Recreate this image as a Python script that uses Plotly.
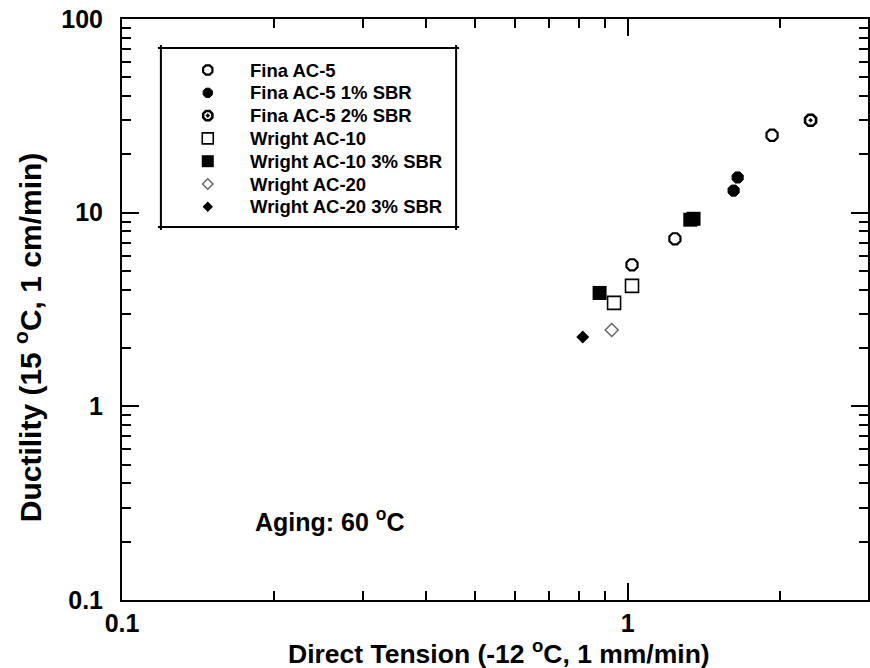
import plotly.graph_objects as go

# Direct tension strain (-12 C) vs ductility (15 C), 60 C aged binders
fina_ac5_x = [1.93, 1.24, 1.02]
fina_ac5_y = [25.1, 7.33, 5.38]

fina_1sbr_x = [1.65, 1.62]
fina_1sbr_y = [15.2, 13.0]

fina_2sbr_x = [2.30]
fina_2sbr_y = [30.0]

wright_ac10_x = [1.02, 0.94]
wright_ac10_y = [4.19, 3.42]

wright_ac10_3sbr_x = [1.35, 1.33, 0.88]
wright_ac10_3sbr_y = [9.3, 9.2, 3.85]

wright_ac20_x = [0.93]
wright_ac20_y = [2.48]

wright_ac20_3sbr_x = [0.815]
wright_ac20_3sbr_y = [2.28]

x_ticks = [0.1, 1]
x_tick_text = ["0.1", "1"]
y_ticks = [0.1, 1, 10, 100]
y_tick_text = ["0.1", "1", "10", "100"]

FONT = "Liberation Sans, Arial, Helvetica, sans-serif"

# plot area in pixels (figure 870 x 668)
L, R, T, B = 122, 870, 19, 600
PW, PH = R - L, B - T


def px(xp):
    return (xp - L) / PW


def py(yp):
    return (B - yp) / PH


series = [
    ("Fina AC-5", fina_ac5_x, fina_ac5_y,
     dict(symbol="octagon-open", size=12, color="black", line=dict(width=2.2, color="black"))),
    ("Fina AC-5 1% SBR", fina_1sbr_x, fina_1sbr_y,
     dict(symbol="octagon", size=12, color="black", line=dict(width=1, color="black"))),
    ("Fina AC-5 2% SBR", fina_2sbr_x, fina_2sbr_y,
     dict(symbol="octagon-open-dot", size=12, color="black", line=dict(width=2.6, color="black"))),
    ("Wright AC-10", wright_ac10_x, wright_ac10_y,
     dict(symbol="square-open", size=13, color="black", line=dict(width=1.6, color="black"))),
    ("Wright AC-10 3% SBR", wright_ac10_3sbr_x, wright_ac10_3sbr_y,
     dict(symbol="square", size=14, color="black", line=dict(width=0, color="black"))),
    ("Wright AC-20", wright_ac20_x, wright_ac20_y,
     dict(symbol="diamond-open", size=10, color="#666666", line=dict(width=1.5, color="#666666"))),
    ("Wright AC-20 3% SBR", wright_ac20_3sbr_x, wright_ac20_3sbr_y,
     dict(symbol="diamond", size=10, color="black", line=dict(width=0, color="black"))),
]

fig = go.Figure()
for name, xs, ys, marker in series:
    fig.add_trace(go.Scatter(x=xs, y=ys, mode="markers", name=name, marker=marker,
                             showlegend=False))

# legend keys on an overlay axis spanning the plot area in fractions
key_x = px(208)
text_x = px(248)
row_y = [py(70 + 22.8 * i) for i in range(len(series))]
for (name, _, _, marker), ry in zip(series, row_y):
    key_marker = dict(marker)
    key_marker["size"] = max(marker["size"] - 2, 8)
    fig.add_trace(go.Scatter(x=[key_x], y=[ry], mode="markers", marker=key_marker,
                             xaxis="x2", yaxis="y2", showlegend=False, hoverinfo="skip"))
    fig.add_annotation(text=name, xref="paper", yref="paper", x=text_x, y=ry,
                       xanchor="left", yanchor="middle", showarrow=False,
                       font=dict(family=FONT, size=18.5, color="black", weight="bold"))

minor_x = [v * m for v in (0.1, 1) for m in range(2, 10)]
minor_y = [v * m for v in (0.1, 1, 10) for m in range(2, 10)]

axis_common = dict(
    type="log",
    showgrid=False,
    zeroline=False,
    showline=True,
    linecolor="black",
    linewidth=2,
    mirror="ticks",
    ticks="inside",
    ticklen=17,
    tickwidth=2,
    tickcolor="black",
    tickfont=dict(family=FONT, size=25, color="black", weight="bold"),
)

fig.update_xaxes(
    **axis_common,
    range=[-1, 0.4753],
    tickmode="array",
    tickvals=x_ticks,
    ticktext=x_tick_text,
    minor=dict(tickmode="array", tickvals=minor_x, ticks="inside", ticklen=9,
               tickwidth=2, tickcolor="black", showgrid=False),
)
fig.update_yaxes(
    **axis_common,
    range=[-1, 2],
    tickmode="array",
    tickvals=y_ticks,
    ticktext=y_tick_text,
    ticklabelstandoff=12,
    minor=dict(tickmode="array", tickvals=minor_y, ticks="inside", ticklen=9,
               tickwidth=2, tickcolor="black", showgrid=False),
)

# legend frame drawn as four rules that run slightly past each corner
bx0, bx1, by0, by1 = 161, 457, 48, 227
ov = 3
frame = [
    (bx0 - ov, by0, bx1 + ov, by0),
    (bx0 - ov, by1, bx1 + ov, by1),
    (bx0, by0 - ov, bx0, by1 + ov),
    (bx1, by0 - ov, bx1, by1 + ov),
]
for x0, y0, x1, y1 in frame:
    fig.add_shape(type="line", xref="paper", yref="paper",
                  x0=px(x0), x1=px(x1), y0=py(y0), y1=py(y1),
                  line=dict(color="black", width=2))

fig.add_annotation(
    text="Aging: 60 <sup>o</sup>C", xref="paper", yref="paper",
    x=px(253), y=py(520), xanchor="left", yanchor="middle",
    showarrow=False, font=dict(family=FONT, size=25, color="black", weight="bold"),
)
fig.add_annotation(
    text="Direct Tension (-12 <sup>o</sup>C, 1 mm/min)", xref="paper", yref="paper",
    x=px(500), y=py(652), xanchor="center", yanchor="middle",
    showarrow=False, font=dict(family=FONT, size=26.5, color="black", weight="bold"),
)
fig.add_annotation(
    text="Ductility (15 <sup>o</sup>C, 1 cm/min)", xref="paper", yref="paper",
    x=px(28), y=py(337), xanchor="center", yanchor="middle",
    textangle=-90, showarrow=False,
    font=dict(family=FONT, size=30, color="black", weight="bold"),
)

fig.update_layout(
    width=870,
    height=668,
    margin=dict(l=L, r=870 - R, t=T, b=668 - B),
    paper_bgcolor="white",
    plot_bgcolor="white",
    showlegend=False,
    xaxis2=dict(overlaying="x", range=[0, 1], visible=False, fixedrange=True),
    yaxis2=dict(overlaying="y", range=[0, 1], visible=False, fixedrange=True),
)

fig.write_html("out.html")
